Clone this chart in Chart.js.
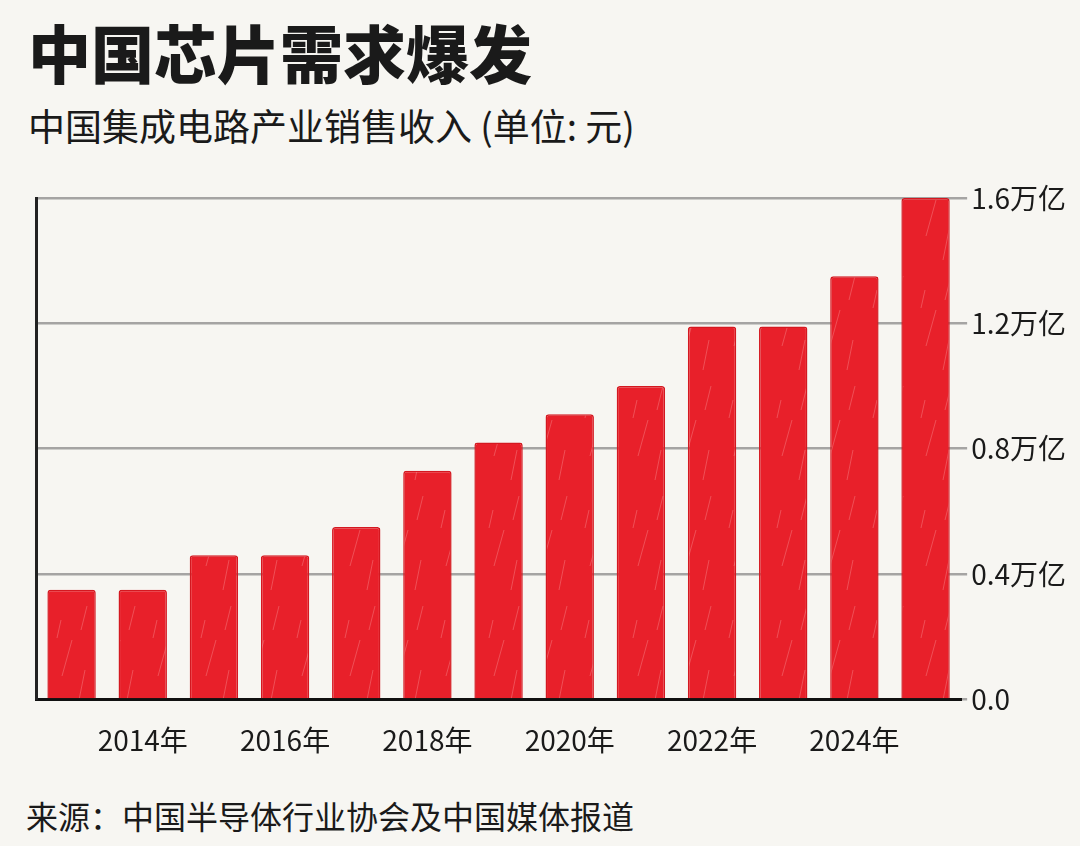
<!DOCTYPE html>
<html lang="zh">
<head>
<meta charset="utf-8">
<title>中国芯片需求爆发</title>
<script src="https://cdn.jsdelivr.net/npm/chart.js@4.4.1/dist/chart.umd.min.js"></script>
<style>
  html, body { margin: 0; padding: 0; }
  body {
    width: 1080px; height: 846px; overflow: hidden;
    background: #f7f6f2;
    font-family: "Noto Sans CJK SC", "Noto Sans", sans-serif;
    color: #1a1a1a;
    position: relative;
  }
  #title {
    position: absolute; left: 28px; top: 13px;
    font-size: 63px; font-weight: 900; line-height: 1.2;
  }
  #subtitle {
    position: absolute; left: 28px; top: 103px;
    font-size: 37px; font-weight: 400; line-height: 1.2;
  }
  #source {
    position: absolute; left: 26px; top: 796px;
    font-size: 32px; line-height: 1.2;
  }
  #wrap { position: absolute; left: 0; top: 160px; width: 1080px; height: 623px; }
</style>
</head>
<body>
<div id="title">中国芯片需求爆发</div>
<div id="subtitle">中国集成电路产业销售收入 (单位: 元)</div>
<div id="wrap"><canvas id="chipChart"></canvas></div>
<div id="source">来源：中国半导体行业协会及中国媒体报道</div>

<script>
// 数据（万亿元）
const years = ['2013', '2014', '2015', '2016', '2017', '2018', '2019', '2020', '2021', '2022', '2023', '2024', '2025'];
const sales = [0.35, 0.35, 0.46, 0.46, 0.55, 0.73, 0.82, 0.91, 1.0, 1.19, 1.19, 1.35, 1.6];
const yTicks = [0, 0.4, 0.8, 1.2, 1.6];
const labeledYears = ['2014', '2016', '2018', '2020', '2022', '2024'];

// pencil-ish streaks on the bars
function crayonPattern() {
    const c = document.createElement('canvas');
    c.width = 48; c.height = 110;
    const g = c.getContext('2d');
    g.fillStyle = '#e8202a';
    g.fillRect(0, 0, c.width, c.height);
    g.strokeStyle = 'rgba(255, 200, 200, 0.28)';
    g.lineWidth = 1;
    g.beginPath();
    g.moveTo(14, 76); g.lineTo(24, 40);
    g.moveTo(31, 100); g.lineTo(37, 70);
    g.moveTo(9, 38); g.lineTo(13, 20);
    g.moveTo(33, 30); g.lineTo(39, 6);
    g.stroke();
    return g.createPattern(c, 'repeat');
}

document.addEventListener('DOMContentLoaded', () => {
    const ctx = document.getElementById('chipChart').getContext('2d');

    new Chart(ctx, {
        type: 'bar',
        data: {
            labels: years,
            datasets: [{
                label: '销售收入',
                data: sales,
                yAxisID: 'y',
                backgroundColor: crayonPattern(),
                borderColor: '#d41820',
                borderWidth: 1.5,
                borderRadius: 3,
                borderSkipped: 'bottom',
                barPercentage: 0.68,
                categoryPercentage: 1.0
            }]
        },
        options: {
            responsive: true,
            maintainAspectRatio: false,
            animation: false,
            layout: { padding: { left: 28, right: 10, top: 38, bottom: 10 } },
            plugins: {
                legend: { display: false },
                tooltip: { enabled: false }
            },
            scales: {
                x: {
                    grid: { display: false },
                    border: { display: true, color: '#111', width: 3 },
                    ticks: {
                        autoSkip: false,
                        maxRotation: 0,
                        padding: 16,
                        color: '#1a1a1a',
                        font: { family: '"Noto Sans CJK SC", "Noto Sans", sans-serif', size: 28 },
                        callback: function (value) {
                            const yr = this.getLabelForValue(value);
                            return labeledYears.includes(yr) ? yr + '年' : '';
                        }
                    }
                },
                y: {
                    position: 'right',
                    min: 0,
                    max: 1.6,
                    afterBuildTicks: axis => { axis.ticks = yTicks.map(v => ({ value: v })); },
                    grid: { color: 'rgba(110, 110, 110, 0.6)', lineWidth: 2.5, tickLength: 6 },
                    border: { display: false },
                    ticks: {
                        padding: 4,
                        color: '#1a1a1a',
                        font: { family: '"Noto Sans CJK SC", "Noto Sans", sans-serif', size: 28 },
                        callback: v => v === 0 ? '0.0' : v.toFixed(1) + '万亿'
                    }
                },
                yl: {
                    position: 'left',
                    grid: { display: false },
                    ticks: { display: false },
                    border: { display: true, color: '#222', width: 3 }
                }
            }
        }
    });
});
</script>
</body>
</html>
